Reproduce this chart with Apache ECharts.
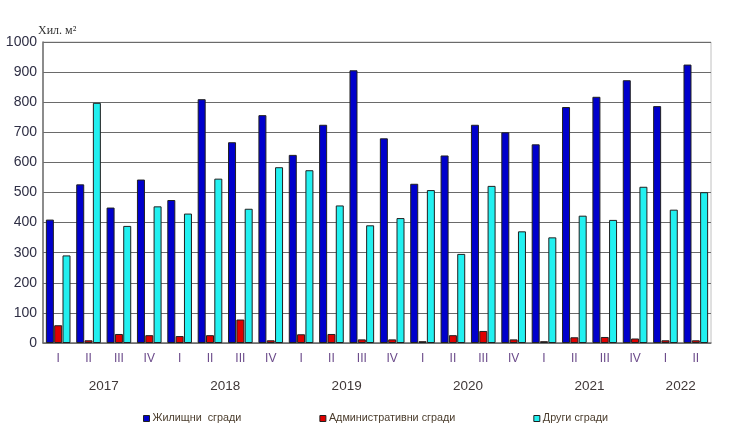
<!DOCTYPE html>
<html>
<head>
<meta charset="utf-8">
<script src="https://cdn.jsdelivr.net/npm/echarts@6/dist/echarts.min.js"></script>
<style>html,body{margin:0;padding:0;background:#fff}#c{width:740px;height:441px}</style>
</head>
<body>
<div id="c"></div>
<script>
const quarters = ['I','II','III','IV','I','II','III','IV','I','II','III','IV','I','II','III','IV','I','II','III','IV','I','II'];
const years = ['2017','2018','2019','2020','2021','2022'];
const quartersPerYear = [4,4,4,4,4,2];
const residential = [410,527,450,543,475,810,667,757,625,725,906,680,529,623,725,700,660,784,818,873,787,925];
const administrative = [59,9,30,26,23,26,78,9,29,30,12,12,6,26,40,12,6,19,20,15,9,9];
const other = [291,798,389,454,430,546,446,584,574,457,391,415,508,296,522,371,351,423,409,519,443,501];
const seriesNames = ['Жилищни  сгради','Административни сгради','Други сгради'];
const yTicks = [0,100,200,300,400,500,600,700,800,900,1000];

// centre of each year's group of quarters, in category units
const yearCentres = {};
let start = 0;
quartersPerYear.forEach((n, i) => { yearCentres[start + n / 2] = years[i]; start += n; });

const chart = echarts.init(document.getElementById('c'), null, {renderer: 'canvas'});
const barStyle = c => ({color: c, borderColor: '#202020', borderWidth: 1});
chart.setOption({
  animation: false,
  title: {
    text: 'Хил. м²', left: 33, top: 20,
    textStyle: {fontFamily: 'Liberation Serif', fontSize: 12, fontWeight: 'normal', color: '#333'}
  },
  legend: {
    bottom: 12, left: 138, itemGap: 78, itemWidth: 6, itemHeight: 6,
    icon: 'rect',
    textStyle: {fontFamily: 'Liberation Sans', fontSize: 10.8, color: '#4a3c2c', padding: [0,0,0,-2]},
    itemStyle: {borderColor: '#202020', borderWidth: 1},
    data: seriesNames
  },
  grid: {left: 43, right: 29, top: 42, bottom: 98, show: true, borderColor: '#c0c0c0', borderWidth: 1},
  xAxis: [{
    type: 'category', data: quarters,
    axisLine: {lineStyle: {color: '#707070', width: 1.5}},
    axisTick: {show: false},
    axisLabel: {interval: 0, margin: 10, fontFamily: 'Liberation Sans', fontSize: 12, color: '#6b4a8a'}
  }, {
    type: 'value', min: 0, max: quarters.length, interval: 1, position: 'bottom', offset: 28,
    axisLine: {show: false}, axisTick: {show: false}, splitLine: {show: false},
    axisLabel: {
      showMinLabel: true, showMaxLabel: true, fontFamily: 'Liberation Sans', fontSize: 13.5, color: '#403838',
      formatter: v => yearCentres[v] || ''
    }
  }],
  yAxis: {
    type: 'value', min: yTicks[0], max: yTicks[yTicks.length - 1], interval: 100,
    axisLine: {show: true, lineStyle: {color: '#707070', width: 1.5}},
    axisTick: {show: false},
    axisLabel: {margin: 6, fontFamily: 'Liberation Sans', fontSize: 14, color: '#2e2e44', formatter: v => String(v)},
    splitLine: {lineStyle: {color: '#6a6a6a', width: 1}}
  },
  series: [
    {name: seriesNames[0], type: 'bar', data: residential, barWidth: 8, barGap: '4%', itemStyle: barStyle('#0000cc')},
    {name: seriesNames[1], type: 'bar', data: administrative, barWidth: 8, barGap: '4%', itemStyle: barStyle('#e00000')},
    {name: seriesNames[2], type: 'bar', data: other, barWidth: 8, barGap: '4%', itemStyle: barStyle('#22f0f0')}
  ]
});
</script>
</body>
</html>
